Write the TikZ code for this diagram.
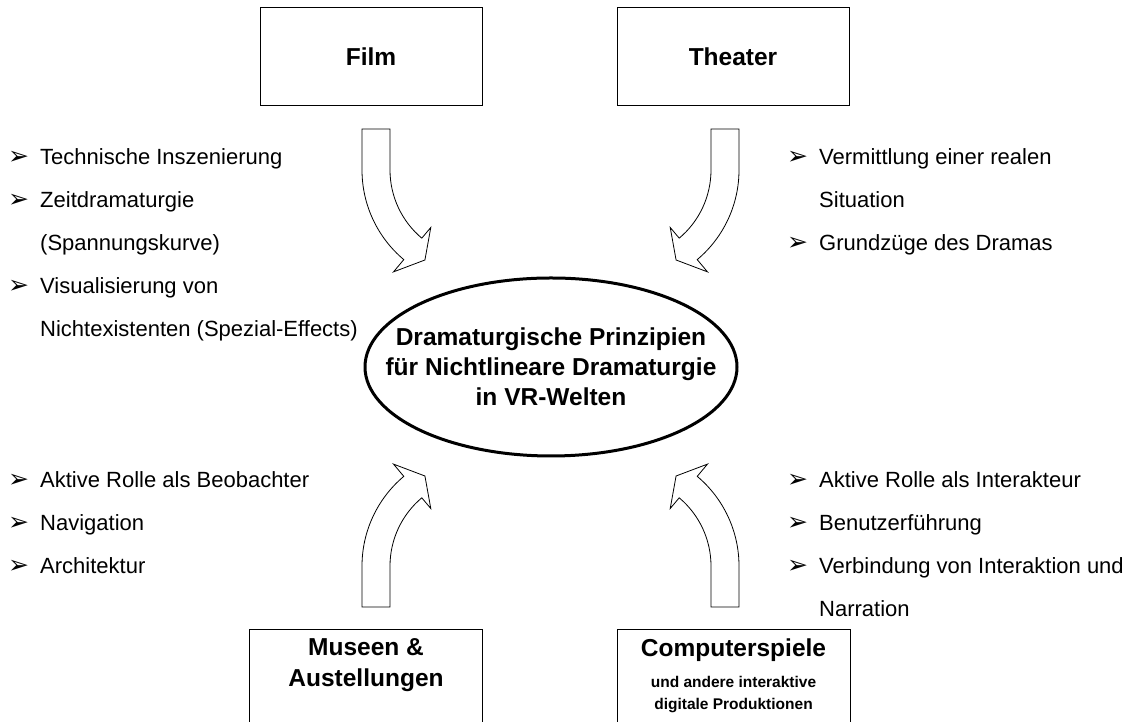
\documentclass[tikz,border=0pt]{standalone}
\usepackage{fontspec}
\setmainfont{Liberation Sans}
\newfontfamily\symfont{DejaVu Sans}
\usetikzlibrary{shapes.geometric}

% arrowhead bullet followed by its hanging indent
\newcommand\bul{\makebox[32pt][l]{\symfont\fontsize{25}{25}\selectfont ➢}}

\tikzset{
  box/.style={draw, line width=1pt, inner sep=0pt},
  blockarrow/.style={draw, fill=white, line width=0.8pt, line join=miter},
  item/.style={anchor=base west, inner sep=0pt, font=\fontsize{22}{22}\selectfont},
  boxtitle/.style={anchor=base, inner sep=0pt, font=\bfseries\fontsize{24.5}{24.5}\selectfont},
  boxsub/.style={anchor=base, inner sep=0pt, font=\bfseries\fontsize{15.5}{15.5}\selectfont},
  % curved block arrow bending from straight down towards the lower right
  bentarrow/.pic={
    \draw[blockarrow] (-117,41) -- (-117,0)
      arc[start angle=180, end angle=230, radius=117]
      -- (230:133) -- (239:105) -- (230:75) -- (230:89)
      arc[start angle=230, end angle=180, radius=89]
      -- (-89,41) -- cycle;
  }
}

\begin{document}
\begin{tikzpicture}[x=1pt,y=1pt]
\useasboundingbox (0,0) rectangle (1136,722);

% source boxes
\node[box, minimum width=222pt, minimum height=98pt,
      font=\bfseries\fontsize{24.5}{24.5}\selectfont] (film) at (371,665) {Film};
\node[box, minimum width=232pt, minimum height=98pt,
      font=\bfseries\fontsize{24.5}{24.5}\selectfont] (theater) at (733,665) {Theater};
\node[box, anchor=north, minimum width=233pt, minimum height=130pt] (museen) at (365.5,93) {};
\node[box, anchor=north, minimum width=233pt, minimum height=130pt] (spiele) at (733.5,93) {};

\node[boxtitle] (museen1) at (366,66) {Museen \&};
\node[boxtitle] (museen2) at (366,35) {Austellungen};
\node[boxtitle] (spiele1) at (733.5,65) {Computerspiele};
\node[boxsub] (spiele2) at (733.5,34.5) {und andere interaktive};
\node[boxsub] (spiele3) at (733.5,12.5) {digitale Produktionen};

% central ellipse
\node[draw, ellipse, line width=3pt, minimum width=372pt, minimum height=178pt,
      inner sep=0pt] (core) at (551,355) {};
\node[align=center, inner sep=0pt,
      font=\bfseries\fontsize{24.5}{30}\selectfont] (coretext) at (core.center)
  {Dramaturgische Prinzipien\\für Nichtlineare Dramaturgie\\in VR-Welten};

% curved block arrows into the ellipse
\pic at (479,552) {bentarrow};
\pic[xscale=-1] at (622,552) {bentarrow};
\pic[yscale=-1] at (479,156) {bentarrow};
\pic[xscale=-1, yscale=-1] at (622,156) {bentarrow};

% Film
\node[item] (f1) at (8,557) {\bul Technische Inszenierung};
\node[item] (f2) at (8,514) {\bul Zeitdramaturgie};
\node[item] (f3) at (40,471) {(Spannungskurve)};
\node[item] (f4) at (8,428) {\bul Visualisierung von};
\node[item] (f5) at (40,385) {Nichtexistenten (Spezial-Effects)};

% Theater
\node[item] (t1) at (787,557) {\bul Vermittlung einer realen};
\node[item] (t2) at (819,514) {Situation};
\node[item] (t3) at (787,471) {\bul Grundzüge des Dramas};

% Museen
\node[item] (m1) at (8,234) {\bul Aktive Rolle als Beobachter};
\node[item] (m2) at (8,191) {\bul Navigation};
\node[item] (m3) at (8,148) {\bul Architektur};

% Computerspiele
\node[item] (c1) at (787,234) {\bul Aktive Rolle als Interakteur};
\node[item] (c2) at (787,191) {\bul Benutzerführung};
\node[item] (c3) at (787,148) {\bul Verbindung von Interaktion und};
\node[item] (c4) at (819,105) {Narration};
\end{tikzpicture}
\end{document}
